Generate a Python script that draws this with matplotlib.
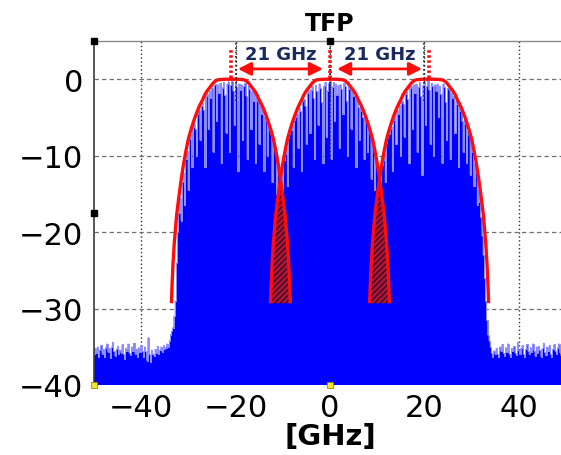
import numpy as np
import matplotlib
matplotlib.use("Agg")
import matplotlib.pyplot as plt

# ---------------- data ----------------
carrier_centers = [-21.0, 0.0, 21.0]          # GHz
spacing_labels = ["21 GHz", "21 GHz"]
x_ticks = [-40, -20, 0, 20, 40]
x_tick_labels = ["\u221240", "\u221220", "0", "20", "40"]
y_ticks = [-40, -30, -20, -10, 0]
y_tick_labels = ["\u221240", "\u221230", "\u221220", "\u221210", "0"]

# red envelope (one lobe), offset from its centre -> dB
envelope_offset_ghz = [0, 0.5, 1, 1.5, 2, 2.5, 2.75, 3, 3.25, 3.5, 3.75, 4, 4.5, 5, 5.5,
                       6, 6.5, 7, 7.5, 8, 8.5, 9, 9.5, 10, 10.5, 11, 11.5, 12, 12.25,
                       12.5, 12.6]
envelope_db = [0, 0, 0, -0.01, -0.03, -0.06, -0.08, -0.13, -0.22, -0.35, -0.5, -0.7,
               -1.1, -1.5, -2.0, -2.7, -3.3, -4.0, -4.8, -5.7, -6.7, -7.8, -9.3, -11.0,
               -13.0, -15.3, -17.8, -21.5, -24.0, -27.5, -29.3]

# measured spectrum, 0.25 GHz bins, by segment (start frequency given below)
floor_left_db = [-36.0, -35.2, -35.8, -35.0, -36.3, -35.4, -34.8, -35.9, -35.3, -36.4,
                 -35.1, -34.6, -35.7, -35.2, -36.5, -35.0, -34.4, -35.6, -36.2, -35.3,
                 -34.9, -36.0, -35.4, -35.8, -34.7, -35.9, -36.6, -35.2, -35.5, -34.6,
                 -35.8, -36.1, -35.0, -35.6, -34.5, -35.9, -35.3, -36.3, -35.1, -35.7,
                 -34.8, -35.5, -36.4, -35.0, -35.6, -36.8, -33.8, -36.0, -37.0, -35.4,
                 -35.9, -36.2, -35.3, -35.8, -34.9, -36.0, -35.4, -35.0, -35.7, -34.8,
                 -35.3, -35.1, -34.6, -35.0, -34.2, -33.4]
lobe_left_db = [-33.0, -32.5, -31.0, -29.0, -24.0, -20.0, -17.5, -15.5, -18.5, -13.5,
                -12.3, -16.5, -10.5, -9.4, -14.5,
                -7.8, -7.3, -11.5, -6.2, -5.8, -6.5, -10.0, -4.5, -4.0, -8.0,
                -3.5, -3.1, -4.0, -11.5, -2.2, -1.9, -6.5, -1.5, -2.5, -1.1,
                -9.5, -0.8, -0.6, -5.5, -0.7, -1.8, -0.5, -11.0, -1.1, -0.4,
                -2.0, -7.0, -0.6, -0.3, -9.5, -0.8, -0.2, -1.5, -6.0, -0.5,
                -1.0, -12.0, -0.6, -1.4, -0.7, -8.0, -0.9, -0.5, -2.2, -10.5,
                -0.9, -1.3, -6.5, -1.6, -2.8, -1.9, -11.0, -2.4, -2.8, -8.5,
                -3.5, -4.5, -4.0, -12.0, -4.9, -5.4, -10.0, -6.2, -6.6]
gap_left_db = [-7.2, -13.5, -8.3, -9.0, -9.8, -15.0, -11.0, -11.5, -11.8, -11.5, -16.0,
               -10.6, -9.8, -9.0, -14.0, -7.7, -7.2]
lobe_mid_db = [-6.6, -6.0, -11.5, -5.3, -4.9, -4.6, -9.0, -3.7, -4.2, -12.0,
               -2.8, -2.6, -3.5, -8.5, -1.8, -1.5, -7.0, -1.4, -0.9, -2.5,
               -10.5, -0.8, -1.6, -6.0, -0.6, -1.2, -3.0, -11.0, -0.9, -0.4,
               -7.5, -1.5, -0.5, -0.2, -10.5, -1.0, -0.4, -5.5, -0.6, -2.0,
               -0.8, -9.0, -0.7, -1.3, -4.5, -0.5, -0.9, -2.8, -10.0, -1.0,
               -1.3, -6.5, -1.7, -2.2, -2.2, -11.5, -2.7, -3.6, -8.0, -3.6,
               -4.1, -5.0, -10.5, -5.2, -5.6, -9.5, -6.5]
gap_right_db = [-7.2, -13.0, -8.3, -9.0, -14.5, -10.5, -11.2, -11.5, -11.8, -15.5, -11.2,
                -10.6, -9.8, -13.5, -8.3, -7.7, -7.2]
lobe_right_db = [-6.5, -6.3, -12.0, -5.3, -4.8, -8.5, -4.0, -4.5, -3.4, -10.0,
                 -2.8, -3.2, -7.5, -1.9, -1.7, -2.6, -11.0, -1.1, -0.9, -6.5,
                 -0.7, -1.8, -0.6, -9.5, -1.0, -0.4, -2.2, -12.5, -0.8, -0.3,
                 -6.0, -0.9, -0.2, -1.4, -8.5, -0.5, -0.9, -10.0, -0.7, -1.6,
                 -0.6, -5.0, -0.9, -1.9, -11.0, -0.6, -1.0, -3.0, -8.0, -1.2,
                 -1.4, -10.5, -1.8, -2.4, -2.2, -7.0, -2.8, -3.3, -11.5, -3.8,
                 -4.1, -5.5, -9.5, -5.3, -5.8, -11.0, -6.8, -7.4, -12.5,
                 -8.6, -9.5, -14.0, -11.0, -12.0, -16.5, -14.5, -16.0, -18.0, -20.5,
                 -23.0, -26.0, -29.0, -31.5, -33.5]
floor_right_db = [-34.2, -35.0, -35.8, -36.3, -35.5, -36.0, -35.2, -35.9, -36.4, -35.0,
                  -35.6, -34.7, -35.8, -36.2, -35.1, -35.7, -34.6, -35.9, -36.3, -35.2,
                  -35.6, -34.9, -35.8, -36.1, -34.4, -35.4, -36.0, -35.2, -34.8, -35.9,
                  -36.4, -35.3, -34.7, -35.6, -36.0, -35.1, -35.7, -34.6, -35.5, -36.2,
                  -35.0, -35.8, -34.9, -35.4, -36.3, -35.2, -34.5, -35.7, -36.1, -35.0,
                  -35.6, -34.8, -35.9, -36.4, -35.3, -34.7, -35.5, -36.0, -35.1, -34.6,
                  -35.8, -36.2, -35.0, -35.4, -34.9, -35.6]
bin_ghz = 0.25
segments = [(-50.0, floor_left_db), (-33.5, lobe_left_db), (-12.5, gap_left_db),
            (-8.25, lobe_mid_db), (8.5, gap_right_db), (12.75, lobe_right_db),
            (33.75, floor_right_db)]

# ---------------- figure ----------------
plt.rcParams["font.family"] = ["DejaVu Sans"]
plt.rcParams["hatch.linewidth"] = 1.0

fig = plt.figure(figsize=(5.61, 4.56), dpi=100)
ax = fig.add_axes([94 / 561, 70 / 456, 472 / 561, 344 / 456])
ax.set_xlim(-50, 50)
ax.set_ylim(-40, 5)

freq = np.concatenate([s + bin_ghz * np.arange(len(v)) for s, v in segments])
spec = np.concatenate([np.asarray(v, float) for s, v in segments])
ax.fill_between(freq, -40, spec, step="mid", facecolor="#0000ff", edgecolor="none",
                lw=0, zorder=2)
ax.step(freq, spec, where="mid", color="#8f8fff", lw=0.7, zorder=2.5)

off = np.asarray(envelope_offset_ghz, float)
edb = np.asarray(envelope_db, float)
shape_x = np.concatenate([-off[::-1], off[1:]])
shape_y = np.concatenate([edb[::-1], edb[1:]])

red = "#ff0d0d"
# hatched overlap between neighbouring lobes
for a, b in zip(carrier_centers[:-1], carrier_centers[1:]):
    lo, hi = b - off[-1], a + off[-1]
    xs = np.linspace(lo, hi, 300)
    ya = np.interp(xs, a + shape_x, shape_y)
    yb = np.interp(xs, b + shape_x, shape_y)
    top = np.minimum(ya, yb)
    ax.fill_between(xs, edb[-1], top, facecolor="#b5142c", edgecolor="#2c0c34",
                    hatch="//////", lw=0, zorder=4)

for c in carrier_centers:
    ax.plot(c + shape_x, shape_y, color=red, lw=2.4, zorder=5, solid_capstyle="butt")

# marker lines at the carriers
ax.vlines(x_ticks[1:4], -2.8, 5, colors="#202020", linestyles=(0, (1, 1.6)), lw=1.2,
          zorder=5)
ax.vlines(carrier_centers, 0.2, 3.9, colors=red, linestyles=(0, (0.7, 0.7)), lw=2.6,
          zorder=6)

for (a, b), lab in zip(zip(carrier_centers[:-1], carrier_centers[1:]), spacing_labels):
    ax.annotate("", xy=(b - 1.5, 1.35), xytext=(a + 1.5, 1.35),
                arrowprops=dict(arrowstyle="<|-|>,head_length=0.55,head_width=0.28",
                                color=red, lw=2.0, shrinkA=0, shrinkB=0,
                                mutation_scale=14), zorder=7)
    ax.text((a + b) / 2, 3.3, lab, ha="center", va="center", fontsize=13,
            fontweight="bold", color="#1b2a5e", zorder=8)

# grid
ax.set_axisbelow(True)
ax.yaxis.grid(True, color="#707070", linestyle=(0, (3.5, 2.5)), lw=0.9)
ax.xaxis.grid(True, color="#303030", linestyle=(0, (1, 1.8)), lw=1.0)

ax.set_xticks(x_ticks)
ax.set_xticklabels(x_tick_labels)
ax.set_yticks(y_ticks)
ax.set_yticklabels(y_tick_labels)
ax.tick_params(axis="both", length=0, labelsize=22, colors="black")
ax.tick_params(axis="y", pad=8)
ax.tick_params(axis="x", pad=6)

ax.spines["top"].set_color("#8a8a8a")
ax.spines["top"].set_linewidth(1.0)
ax.spines["left"].set_color("#3a3a3a")
ax.spines["left"].set_linewidth(1.2)
ax.spines["bottom"].set_visible(False)
ax.spines["right"].set_visible(False)

ax.set_title("TFP", fontsize=17, fontweight="bold", pad=8)
ax.set_xlabel("[GHz]", fontsize=21, fontweight="bold", labelpad=0)

# selection handles on the plot box
ax.plot([0, 0.5, 0], [1, 1, 0.5], "s", color="black", ms=4.5, transform=ax.transAxes,
        clip_on=False, zorder=10)
ax.plot([0, 0.5], [0, 0], "s", mfc="#f5e52a", mec="#9a8a00", mew=0.6, ms=4.5,
        transform=ax.transAxes, clip_on=False, zorder=10)

fig.savefig("out.png", dpi=100)
